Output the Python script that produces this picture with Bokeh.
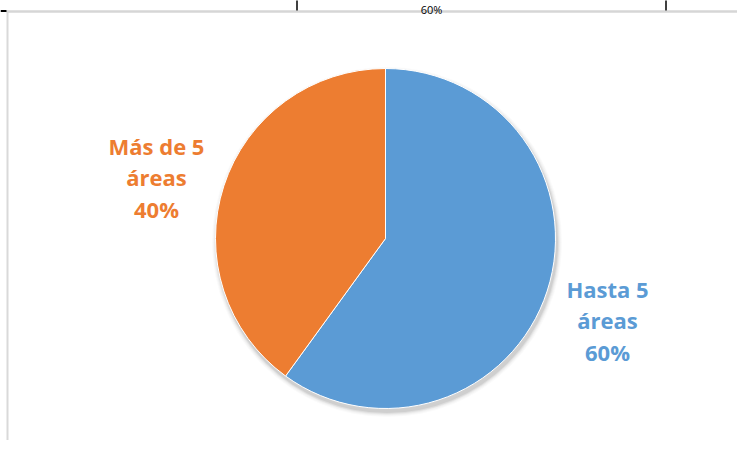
import math
from bokeh.plotting import figure
from bokeh.models import Range1d
from bokeh.core.properties import value
from bokeh.embed import file_html
from bokeh.resources import INLINE

# Data
categories = ["Hasta 5 áreas", "Más de 5 áreas"]
shares = [60, 40]
colors = ["#5B9BD5", "#ED7D31"]
header_text = "60%"

W, H = 753, 456
M = 8
FW, FH = W - 2 * M, H - 2 * M
p = figure(width=FW, height=FH, output_backend="svg",
           toolbar_location=None, x_range=Range1d(0, FW), y_range=Range1d(H - FH, H),
           min_border=0, outline_line_color=None)
p.axis.visible = False
p.grid.visible = False
p.background_fill_color = "white"
p.border_fill_color = "white"

def Y(y):  # reference pixel row -> data y
    return H - y

# chart area border (light gray) and spreadsheet fragment above it
p.line([7, 7], [Y(10), Y(456)], line_color="#d9d9d9", line_width=2)
p.line([6, FW], [Y(11), Y(11)], line_color="#d6d6d6", line_width=2.5)
p.line([0, 6], [Y(10.5), Y(10.5)], line_color="black", line_width=2)
p.line([296.5, 296.5], [Y(-2), Y(10)], line_color="black", line_width=1.5)
p.line([665.5, 665.5], [Y(-2), Y(10)], line_color="black", line_width=1.5)
p.text(x=[431], y=[Y(8.5)], text=[header_text], text_font=value("Open Sans"),
       text_font_size="11px", text_color="black", text_align="center",
       text_baseline="alphabetic")

cx, cy, r = 385, Y(238), 170

# soft shadow
for dr, a in [(5, 0.02), (4, 0.025), (3, 0.035), (2, 0.05), (1, 0.07)]:
    p.circle(x=[cx + 1.5], y=[cy - 3.5], radius=r + dr, fill_color="black",
             fill_alpha=a, line_color=None)

# wedges: first slice starts at 12 o'clock going clockwise
total = sum(shares)
start = math.pi / 2
for cat, v, c in zip(categories, shares, colors):
    sweep = 2 * math.pi * v / total
    end = start - sweep
    p.wedge(x=[cx], y=[cy], radius=r, start_angle=end, end_angle=start,
            fill_color=c, line_color="white", line_width=1)
    start = end

# labels
label_pos = [(607, 288), (156, 145)]
font = value("Open Sans")
for cat, v, c, (lx, ly) in zip(categories, shares, colors, label_pos):
    words = cat.split(" ")
    lines = [" ".join(words[:-1]), words[-1], f"{v}%"]
    for k, t in enumerate(lines):
        p.text(x=[lx], y=[Y(ly + 31.5 * k)], text=[t], text_font=font,
               text_font_size="22px", text_font_style="bold", text_color=c,
               text_align="center", text_baseline="alphabetic")

open("out.html", "w").write(file_html(p, INLINE))
